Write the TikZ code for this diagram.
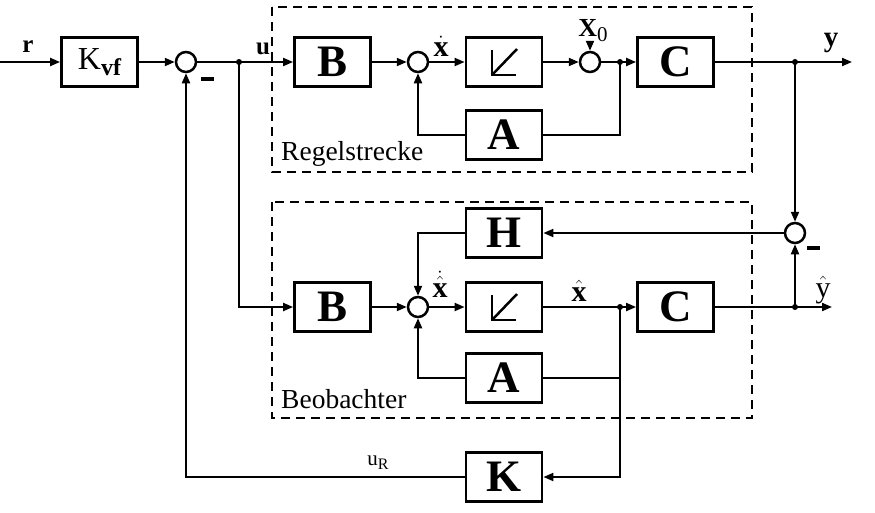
\documentclass[tikz,border=0pt]{standalone}
\usepackage{fontspec}
\setmainfont{Liberation Serif}
\usetikzlibrary{arrows.meta}
\begin{document}
\begin{tikzpicture}[x=1pt,y=-1pt,
 blk/.style={draw,line width=2.8pt,minimum width=76pt,minimum height=49pt,inner sep=0pt,font=\fontsize{45}{45}\selectfont\bfseries},
 sumn/.style={draw,circle,line width=2.5pt,minimum size=20pt,inner sep=0pt},
 ln/.style={line width=2pt},
 arr/.style={ln,-{Triangle[length=10pt,width=8pt]}},
 jdot/.style={circle,fill,inner sep=0pt,minimum size=6pt},
 frame/.style={draw,line width=2pt,dash pattern=on 9pt off 6pt},
 lab/.style={inner sep=0pt,font=\fontsize{25}{25}\selectfont\bfseries},
 mlab/.style={inner sep=0pt,anchor=base,font=\fontsize{30}{30}\selectfont\bfseries},
 txt/.style={inner sep=0pt,font=\fontsize{27.5}{27.5}\selectfont},
 minus/.style={fill,inner sep=0pt,minimum width=13pt,minimum height=3.5pt}]
\useasboundingbox (0,0) rectangle (875,512);
% frames
\draw[frame] (272,7) rectangle (752,172);
\draw[frame] (272,202) rectangle (752,418);
\node[txt,anchor=west] (reg) at (281,154) {Regelstrecke};
\node[txt,anchor=west] (beo) at (281,399) {Beobachter};
% blocks
\node[blk,font=\fontsize{32}{32}\selectfont] (kvf) at (99.5,62) {K\raisebox{-6pt}{\fontsize{24}{24}\selectfont\bfseries vf}};
\node[sumn] (s1) at (186,62) {};
\node[blk] (B1) at (332.5,62) {B};
\node[sumn] (s2) at (418,62) {};
\node[blk] (I1) at (504,62) {};
\node[sumn] (s3) at (590,62) {};
\node[blk] (C1) at (675.5,62) {C};
\node[blk] (A1) at (504,135) {A};
\node[blk] (H) at (504,233) {H};
\node[sumn] (s4) at (795,233) {};
\node[blk] (B2) at (332.5,307) {B};
\node[sumn] (s5) at (418,307) {};
\node[blk] (I2) at (504,307) {};
\node[blk] (C2) at (675.5,307) {C};
\node[blk] (A2) at (504,378) {A};
\node[blk] (K) at (504,477) {K};
% integrator symbols
\foreach \n in {I1,I2}{
  \draw[line width=2.5pt] ([xshift=-12pt,yshift=12pt]\n.center) -- ([xshift=-12pt,yshift=-13pt]\n.center) -- ([xshift=12pt,yshift=-13pt]\n.center);
  \draw[line width=2.5pt] ([xshift=-12pt,yshift=-13pt]\n.center) -- ([xshift=13pt,yshift=13pt]\n.center);
}
% coordinates
\coordinate (in) at (0,62);
\node[jdot] (j1) at (239,62) {};
\node[jdot] (j2) at (620,62) {};
\node[jdot] (j3) at (795,62) {};
\coordinate (out1) at (852,62);
\node[jdot] (j5) at (620,307) {};
\node[jdot] (j6) at (795,307) {};
\coordinate (out2) at (832,307);
% labels
\node[lab] (r) at (28,47) {r};
\node[lab] (u) at (263,49) {u};
\node[mlab] (xd) at (441,56) {$\dot{\mathbf{x}}$};
\node[lab,font=\fontsize{29}{29}\selectfont\bfseries] (y) at (831,43) {y};
\node[inner sep=0pt,anchor=south] (x0) at (593,42) {\fontsize{26}{26}\selectfont\bfseries X\raisebox{-5pt}{\fontsize{21}{21}\mdseries 0}};
\node[mlab] (xhd) at (440,297) {$\dot{\hat{\mathbf{x}}}$};
\node[mlab] (xh) at (579,301) {$\hat{\mathbf{x}}$};
\node[mlab,font=\fontsize{30}{30}\selectfont] (yh) at (823,297) {$\hat{\mathrm{y}}$};
\node[inner sep=0pt,font=\fontsize{21}{21}\selectfont] (uR) at (378,463) {u\raisebox{-4pt}{\fontsize{16}{16}\selectfont R}};
\node[minus] (m1) at (207,79) {};
\node[minus] (m2) at (813,248) {};
% top path
\draw[arr] (in) -- (kvf);
\draw[arr] (kvf) -- (s1);
\draw[arr] (s1) -- (B1);
\draw[arr] (B1) -- (s2);
\draw[arr] (s2) -- (I1);
\draw[arr] (I1) -- (s3);
\draw[arr] (s3) -- (C1);
\draw[arr] (C1) -- (out1);
\draw[ln] (j2.center) |- (A1.east);
\draw[arr] (A1.west) -| (s2);
\draw[arr] (x0.south -| s3) -- (s3);
% observer
\draw[arr] (j1.center) |- (B2);
\draw[arr] (j3.center) -- (s4);
\draw[arr] (s4) -- (H);
\draw[arr] (H.west) -| (s5);
\draw[arr] (B2) -- (s5);
\draw[arr] (s5) -- (I2);
\draw[arr] (I2) -- (C2);
\draw[arr] (C2) -- (out2);
\draw[arr] (j6.center) -- (s4);
\draw[ln] (j5.center) |- (A2.east);
\draw[arr] (A2.west) -| (s5);
\draw[arr] (j5.center) |- (K.east);
\draw[arr] (K.west) -| (s1);
\end{tikzpicture}
\end{document}
